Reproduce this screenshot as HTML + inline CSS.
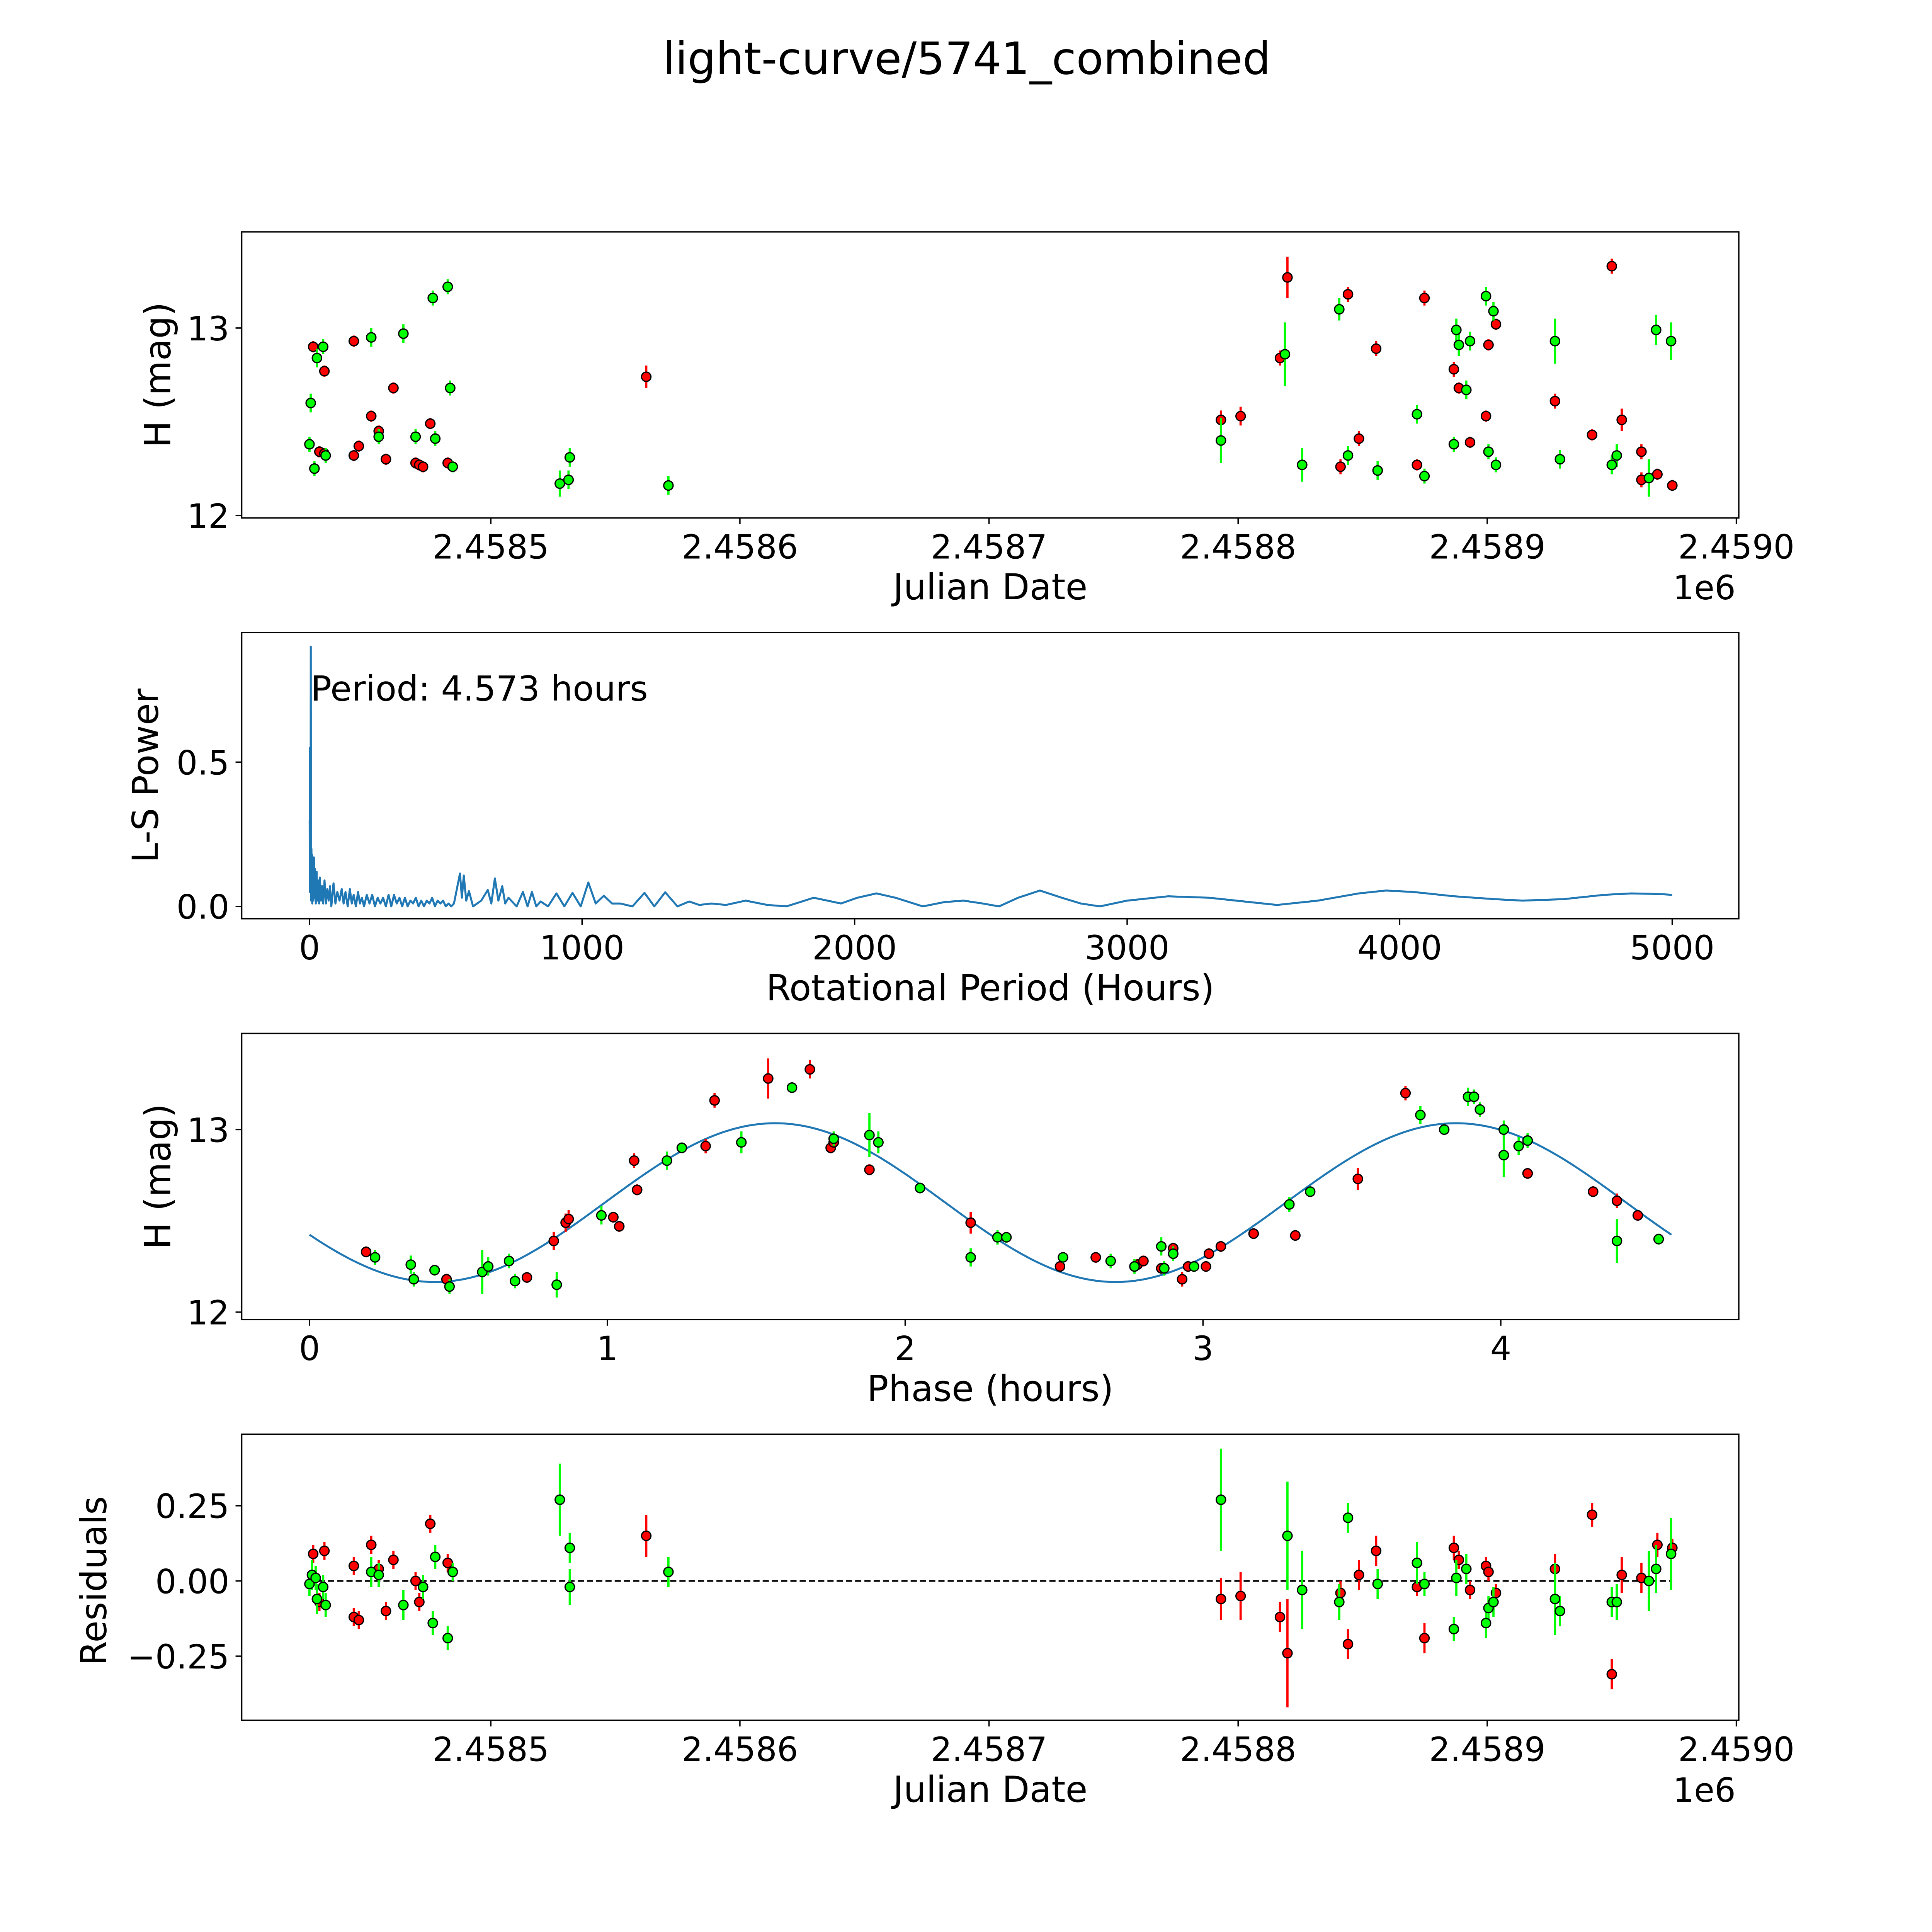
<!DOCTYPE html>
<html><head><meta charset="utf-8">
<style>
html,body{margin:0;padding:0;background:#fff;overflow:hidden;width:5400px;height:5400px;}
svg{display:block;font-family:"DejaVu Sans","Liberation Sans",sans-serif;}
</style></head>
<body>
<svg id="fig" xmlns="http://www.w3.org/2000/svg" width="5400" height="5400" viewBox="0 0 1692 1692" overflow="hidden">
<rect x="0" y="0" width="1692" height="1692" fill="#fff"/>
<text x="784" y="60" font-size="36" text-anchor="middle">light-curve/5741_combined</text>
<g id="layer"></g>
</svg>
<script>
// ---------- Panel 1: light curve ----------
const redJD = [2458428.7,2458431.2,2458433.2,2458433.2,2458445.0,2458445.0,2458447.0,2458452.0,2458455.0,2458457.9,2458460.9,2458469.8,2458471.3,2458472.8,2458475.7,2458482.7,2458562.4,2458819.8,2458816.8,2458793.1,2458801.0,2458841.1,2458844.1,2458848.5,2458855.4,2458871.8,2458874.8,2458886.6,2458888.6,2458893.1,2458899.5,2458900.5,2458903.5,2458927.2,2458942.1,2458950.0,2458954.0,2458961.9,2458961.9,2458968.3,2458974.3];
const redMag = [12.90,12.34,12.33,12.77,12.93,12.32,12.37,12.53,12.45,12.30,12.68,12.28,12.27,12.26,12.49,12.28,12.74,13.27,12.84,12.51,12.53,12.26,13.18,12.41,12.89,12.27,13.16,12.78,12.68,12.39,12.53,12.91,13.02,12.61,12.43,13.33,12.51,12.34,12.19,12.22,12.16];
const redErr = [0.03,0.03,0.03,0.03,0.03,0.03,0.03,0.03,0.03,0.03,0.03,0.03,0.03,0.03,0.03,0.03,0.06,0.11,0.04,0.05,0.05,0.04,0.04,0.04,0.04,0.03,0.04,0.04,0.03,0.03,0.03,0.03,0.03,0.04,0.03,0.04,0.06,0.04,0.04,0.03,0.03];
const greenJD = [2458427.2,2458427.7,2458429.2,2458430.2,2458432.7,2458433.7,2458452.0,2458455.0,2458464.9,2458469.8,2458476.7,2458477.7,2458482.7,2458483.7,2458484.7,2458527.7,2458531.2,2458531.7,2458571.3,2458793.1,2458818.8,2458825.7,2458840.6,2458844.1,2458856.0,2458871.8,2458874.8,2458886.6,2458887.6,2458888.6,2458891.6,2458893.1,2458899.5,2458900.5,2458902.5,2458903.5,2458927.2,2458929.2,2458950.0,2458952.0,2458964.9,2458967.8,2458973.8];
const greenMag = [12.38,12.60,12.25,12.84,12.90,12.32,12.95,12.42,12.97,12.42,13.16,12.41,13.22,12.68,12.26,12.17,12.19,12.31,12.16,12.40,12.86,12.27,13.10,12.32,12.24,12.54,12.21,12.38,12.99,12.91,12.67,12.93,13.17,12.34,13.09,12.27,12.93,12.30,12.27,12.32,12.20,12.99,12.93];
const greenErr = [0.04,0.05,0.04,0.05,0.04,0.04,0.05,0.04,0.05,0.04,0.04,0.04,0.04,0.04,0.03,0.07,0.05,0.05,0.05,0.12,0.17,0.09,0.06,0.05,0.05,0.05,0.04,0.04,0.06,0.06,0.05,0.05,0.05,0.04,0.05,0.04,0.12,0.05,0.05,0.06,0.10,0.08,0.10];
const jdTicks = [2458500,2458600,2458700,2458800,2458900,2459000];
const jdTickLabels = ["2.4585","2.4586","2.4587","2.4588","2.4589","2.4590"];
const magTicks = [12,13];
const magTickLabels = ["12","13"];

// ---------- Panel 2: periodogram ----------
const periodHours = [
0.5,1,2,3,4,4.57,5,6,7,8,
9,10,12,14,16,18,20,23,26,29,
32,35,38,42,46,50,55,60,65,70,
75,80,88,95,102,110,118,125,132,140,
148,155,162,170,178,185,192,200,210,220,
230,240,250,260,270,280,290,300,310,320,
330,340,350,360,370,380,390,400,410,420,
430,440,450,460,470,480,490,500,510,520,
530,552,559,566,575,585,600,630,654,667,
680,693,707,718,730,760,783,800,816,832,
848,875,906,935,965,995,1023,1050,1080,1110,
1140,1185,1229,1265,1305,1350,1393,1430,1475,1528,
1600,1680,1750,1800,1850,1900,1950,2010,2080,2150,2250,2330,2400,2470,2530,2600,2680,2760,2830,2900,
3000,3150,3300,3450,3550,3700,3850,3950,4050,4200,4350,4450,4600,4750,4850,4950,5000];
const lsPower = [
0.30,0.05,0.55,0.12,0.35,0.90,0.30,0.02,0.20,0.03,
0.18,0.01,0.16,0.02,0.17,0.03,0.13,0.01,0.12,0.02,
0.09,0.01,0.10,0.02,0.07,0.01,0.09,0.01,0.06,0.02,
0.07,0.00,0.08,0.01,0.05,0.02,0.06,0.01,0.05,0.00,
0.06,0.01,0.04,0.00,0.05,0.01,0.03,0.00,0.04,0.01,
0.04,0.00,0.03,0.01,0.03,0.00,0.04,0.00,0.04,0.01,
0.03,0.00,0.03,0.00,0.02,0.01,0.03,0.00,0.02,0.00,
0.02,0.01,0.03,0.00,0.02,0.01,0.02,0.00,0.01,0.00,
0.01,0.114,0.03,0.107,0.02,0.053,0.00,0.02,0.057,0.01,
0.097,0.02,0.07,0.01,0.03,0.00,0.05,0.00,0.05,0.00,
0.017,0.00,0.045,0.00,0.047,0.00,0.083,0.01,0.037,0.01,
0.01,0.00,0.047,0.00,0.049,0.00,0.017,0.005,0.01,0.005,
0.02,0.005,0.00,0.015,0.03,0.02,0.01,0.03,0.045,0.03,0.00,0.015,0.02,0.01,0.00,0.03,0.055,0.03,0.01,0.00,
0.02,0.035,0.03,0.015,0.005,0.02,0.045,0.055,0.05,0.035,0.025,0.02,0.025,0.04,0.045,0.043,0.04];
const lsXTicks = [0,1000,2000,3000,4000,5000];
const lsXTickLabels = ["0","1000","2000","3000","4000","5000"];
const lsYTicks = [0,0.5];
const lsYTickLabels = ["0.0","0.5"];

// ---------- Panel 3: phase-folded ----------
const redPhase = [0.19,0.86,0.87,1.36,1.54,1.68,1.75,1.76,1.88,2.22,2.52,2.64,2.77,2.78,2.80,2.86,2.90,2.93,2.95,3.01,3.02,3.06,3.17,3.31,3.52,3.68,4.09,4.31,4.39,4.46,1.09,1.10,1.02,1.04,0.46,0.73,1.33,0.82];
const redPhaseMag = [12.33,12.49,12.51,13.16,13.28,13.33,12.90,12.93,12.78,12.49,12.25,12.30,12.25,12.26,12.28,12.24,12.35,12.18,12.25,12.25,12.32,12.36,12.43,12.42,12.73,13.20,12.76,12.66,12.61,12.53,12.83,12.67,12.52,12.47,12.18,12.19,12.91,12.39];
const redPhaseErr = [0.03,0.05,0.05,0.04,0.11,0.05,0.03,0.03,0.03,0.06,0.03,0.03,0.03,0.03,0.03,0.03,0.03,0.04,0.03,0.03,0.03,0.03,0.03,0.03,0.06,0.04,0.03,0.03,0.04,0.03,0.04,0.03,0.03,0.03,0.03,0.03,0.04,0.05];
const greenPhase = [0.22,0.34,0.35,0.42,0.47,0.58,0.60,0.67,0.69,0.83,0.98,1.20,1.25,1.45,1.62,1.76,1.88,1.91,2.05,2.22,2.31,2.34,2.53,2.69,2.77,2.86,2.87,2.90,2.97,3.29,3.36,3.73,3.81,3.89,3.91,3.93,4.01,4.01,4.06,4.09,4.39,4.53];
const greenPhaseMag = [12.30,12.26,12.18,12.23,12.14,12.22,12.25,12.28,12.17,12.15,12.53,12.83,12.90,12.93,13.23,12.95,12.97,12.93,12.68,12.30,12.41,12.41,12.30,12.28,12.25,12.36,12.24,12.32,12.25,12.59,12.66,13.08,13.00,13.18,13.18,13.11,13.00,12.86,12.91,12.94,12.39,12.40];
const greenPhaseErr = [0.04,0.05,0.04,0.03,0.04,0.12,0.05,0.04,0.04,0.07,0.05,0.05,0.03,0.06,0.03,0.04,0.12,0.06,0.03,0.05,0.04,0.03,0.03,0.04,0.04,0.05,0.04,0.04,0.03,0.04,0.03,0.05,0.03,0.05,0.04,0.04,0.05,0.12,0.05,0.04,0.12,0.03];
const modelParams = [12.60, 0.435, 4.573, 0.42]; // mean, amplitude, period(h), phase of minimum
const phaseTicks = [0,1,2,3,4];
const phaseTickLabels = ["0","1","2","3","4"];

// ---------- Panel 4: residuals ----------
const redResJD = [2458428.7,2458431.2,2458433.2,2458445.0,2458445.0,2458447.0,2458452.0,2458455.0,2458457.9,2458460.9,2458469.8,2458471.3,2458475.7,2458482.7,2458562.4,2458793.1,2458801.0,2458816.8,2458819.8,2458841.1,2458844.1,2458848.5,2458855.4,2458871.8,2458874.8,2458886.6,2458888.6,2458893.1,2458899.5,2458900.5,2458903.5,2458927.2,2458942.1,2458950.0,2458954.0,2458961.9,2458968.3,2458974.3];
const redRes = [0.09,-0.07,0.10,0.05,-0.12,-0.13,0.12,0.04,-0.10,0.07,0.00,-0.07,0.19,0.06,0.15,-0.06,-0.05,-0.12,-0.24,-0.04,-0.21,0.02,0.10,-0.02,-0.19,0.11,0.07,-0.03,0.05,0.03,-0.04,0.04,0.22,-0.31,0.02,0.01,0.12,0.11];
const redResErr = [0.03,0.03,0.03,0.03,0.03,0.03,0.03,0.03,0.03,0.03,0.03,0.03,0.03,0.03,0.07,0.07,0.08,0.05,0.18,0.04,0.05,0.05,0.05,0.03,0.05,0.04,0.03,0.03,0.03,0.03,0.03,0.05,0.04,0.05,0.06,0.05,0.04,0.03];
const greenResJD = [2458427.2,2458428.2,2458429.7,2458430.2,2458432.7,2458433.7,2458452.0,2458455.0,2458464.9,2458472.8,2458476.7,2458477.7,2458482.7,2458484.7,2458527.7,2458531.7,2458531.7,2458571.3,2458793.1,2458819.8,2458825.7,2458840.6,2458844.1,2458856.0,2458871.8,2458874.8,2458886.6,2458887.6,2458891.6,2458899.5,2458900.5,2458902.5,2458927.2,2458929.2,2458950.0,2458952.0,2458964.9,2458967.8,2458973.8];
const greenRes = [-0.01,0.02,0.01,-0.06,-0.02,-0.08,0.03,0.02,-0.08,-0.02,-0.14,0.08,-0.19,0.03,0.27,0.11,-0.02,0.03,0.27,0.15,-0.03,-0.07,0.21,-0.01,0.06,-0.01,-0.16,0.01,0.04,-0.14,-0.09,-0.07,-0.06,-0.10,-0.07,-0.07,0.00,0.04,0.09];
const greenResErr = [0.04,0.05,0.04,0.05,0.04,0.04,0.05,0.04,0.05,0.04,0.04,0.04,0.04,0.03,0.12,0.05,0.06,0.05,0.17,0.18,0.13,0.06,0.05,0.05,0.07,0.04,0.04,0.06,0.05,0.05,0.04,0.05,0.12,0.05,0.05,0.06,0.10,0.08,0.12];
const resTicks = [-0.25,0,0.25];
const resTickLabels = ["\u22120.25","0.00","0.25"];

const NS = "http://www.w3.org/2000/svg";
const layer = document.getElementById('layer');
function el(tag, attrs, parent){
  const e = document.createElementNS(NS, tag);
  for (const k in attrs) e.setAttribute(k, attrs[k]);
  (parent||layer).appendChild(e);
  return e;
}
function lin(d0,d1,r0,r1){ return v => r0 + (v-d0)/(d1-d0)*(r1-r0); }

function axesBox(x0,y0,x1,y1,name){
  const r = el('rect',{x:x0,y:y0,width:x1-x0,height:y1-y0,fill:'none',stroke:'#000','stroke-width':1.1});
  
  
}
function xTicks(ticks,labels,sx,yb,name){
  ticks.forEach((t,i)=>{
    const x = sx(t);
    const l = el('line',{x1:x,x2:x,y1:yb,y2:yb+5,stroke:'#000','stroke-width':1.1});
    
    
    const tx = el('text',{x:x,y:yb+33,'font-size':27,'text-anchor':'middle'});
    tx.textContent = labels[i];
    
    
  });
}
function yTicks(ticks,labels,sy,xl,name){
  ticks.forEach((t,i)=>{
    const y = sy(t);
    const l = el('line',{x1:xl-5,x2:xl,y1:y,y2:y,stroke:'#000','stroke-width':1.1});
    
    
    const tx = el('text',{x:xl-10,y:y+10,'font-size':27,'text-anchor':'end'});
    tx.textContent = labels[i];
    
    
  });
}
function label(txt,x,y,rot,name,size){
  const t = el('text',{x:x,y:y,'font-size':size||29,'text-anchor':'middle'});
  if (rot) t.setAttribute('transform','rotate(-90 '+x+' '+y+')');
  t.textContent = txt;
  
  
}
function points(xs,ys,es,sx,sy,color,name){
  xs.forEach((v,i)=>{
    const x = sx(v);
    const y1 = sy(ys[i]-es[i]), y2 = sy(ys[i]+es[i]);
    const l = el('line',{x1:x,x2:x,y1:y1,y2:y2,stroke:color,'stroke-width':1.8});
    
    
  });
  xs.forEach((v,i)=>{
    const c = el('circle',{cx:sx(v),cy:sy(ys[i]),r:3.8,fill:color,stroke:'#000','stroke-width':1});
    
    
  });
}

// Panel 1
{
  const sx = lin(2458500,2458600,398,600);
  const sy = lin(12,13,418,266);
  axesBox(196,188,1410,420,'light-curve-axes');
  xTicks(jdTicks,jdTickLabels,sx,420,'jd-x');
  yTicks(magTicks,magTickLabels,sy,196,'mag-y');
  label('Julian Date',803,486,false,'x-axis-title');
  label('1e6',1382,486,false,'x-offset-label',27);
  label('H (mag)',138,304,true,'y-axis-title');
  points(redJD,redMag,redErr,sx,sy,'#ff0000','red-band');
  points(greenJD,greenMag,greenErr,sx,sy,'#00ff00','green-band');
}
// Panel 2
{
  const sx = lin(0,1000,251,472);
  const sy = lin(0,0.5,735,618);
  axesBox(196,513,1410,745,'periodogram-axes');
  xTicks(lsXTicks,lsXTickLabels,sx,745,'period-x');
  yTicks(lsYTicks,lsYTickLabels,sy,196,'power-y');
  label('Rotational Period (Hours)',803,811,false,'periodogram-x-title');
  label('L-S Power',128,629,true,'periodogram-y-title');
  const d = periodHours.map((p,i)=>(i?'L':'M')+sx(p).toFixed(2)+' '+sy(lsPower[i]).toFixed(2)).join(' ');
  const pl = el('path',{d:d,fill:'none',stroke:'#1f77b4','stroke-width':1.6,'stroke-linejoin':'round'});
  
  
  const t = el('text',{x:252,y:568,'font-size':28});
  t.textContent = 'Period: 4.573 hours';
  
  
}
// Panel 3
{
  const sx = lin(0,1,251,492.5);
  const sy = lin(12,13,1064,916);
  axesBox(196,838,1410,1070,'phase-axes');
  xTicks(phaseTicks,phaseTickLabels,sx,1070,'phase-x');
  yTicks(magTicks,magTickLabels,sy,196,'phase-mag-y');
  label('Phase (hours)',803,1136,false,'phase-x-title');
  label('H (mag)',138,954,true,'phase-y-title');
  const [mean,amp,per,pmin] = modelParams;
  const half = per/2;
  let d='';
  for(let i=0;i<=300;i++){
    const p = per*i/300;
    const m = mean - amp*Math.cos(2*Math.PI*(p-pmin)/half);
    d += (i?'L':'M')+sx(p).toFixed(2)+' '+sy(m).toFixed(2)+' ';
  }
  const pl = el('path',{d:d,fill:'none',stroke:'#1f77b4','stroke-width':1.6});
  
  
  points(redPhase,redPhaseMag,redPhaseErr,sx,sy,'#ff0000','phase-red');
  points(greenPhase,greenPhaseMag,greenPhaseErr,sx,sy,'#00ff00','phase-green');
}
// Panel 4
{
  const sx = lin(2458500,2458600,398,600);
  const sy = lin(0,0.25,1282,1221);
  axesBox(196,1163,1410,1395,'residuals-axes');
  xTicks(jdTicks,jdTickLabels,sx,1395,'res-jd-x');
  yTicks(resTicks,resTickLabels,sy,196,'res-y');
  label('Julian Date',803,1461,false,'residuals-x-title');
  label('1e6',1382,1461,false,'residuals-x-offset',27);
  label('Residuals',86,1282,true,'residuals-y-title');
  const zl = el('line',{x1:sx(2458427.2),x2:sx(2458974.3),y1:sy(0),y2:sy(0),stroke:'#000','stroke-width':1.3,'stroke-dasharray':'5,2.5'});
  
  
  points(redResJD,redRes,redResErr,sx,sy,'#ff0000','res-red');
  points(greenResJD,greenRes,greenResErr,sx,sy,'#00ff00','res-green');
}
</script>
</body></html>
